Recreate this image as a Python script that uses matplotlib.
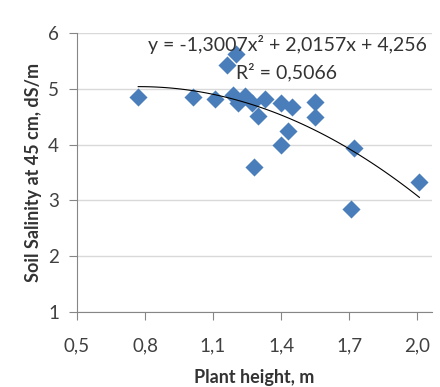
import numpy as np
import matplotlib
matplotlib.use('Agg')
import matplotlib.pyplot as plt

plt.rcParams['font.family'] = ['Lato', 'DejaVu Sans']

# plant height (m) vs soil salinity at 45 cm (dS/m)
height = [0.77, 1.01, 1.11, 1.16, 1.20, 1.19, 1.21, 1.24, 1.27, 1.30,
          1.28, 1.33, 1.40, 1.45, 1.43, 1.40, 1.55, 1.55, 1.72, 1.71, 2.01]
salinity = [4.85, 4.85, 4.81, 5.43, 5.62, 4.89, 4.74, 4.87, 4.75, 4.51,
            3.60, 4.81, 4.75, 4.67, 4.24, 3.99, 4.77, 4.49, 3.94, 2.84, 3.32]

# polynomial trendline coefficients shown on the chart
coef = [-1.3007, 2.0157, 4.256]
r2 = 0.5066

xticks = [0.5, 0.8, 1.1, 1.4, 1.7, 2.0]
yticks = [1, 2, 3, 4, 5, 6]

fig = plt.figure(figsize=(4.4, 3.87), dpi=100)
ax = fig.add_axes([0.175, 0.194, 0.807, 0.721])

ax.scatter(height, salinity, marker='D', s=85, color='#4a7ebb', zorder=3, linewidths=0)

xs = np.linspace(min(height), max(height), 100)
ax.plot(xs, np.polyval(coef, xs), color='black', linewidth=0.8, zorder=4)

ax.set_xlim(0.5, 2.066)
ax.set_ylim(1, 6)
ax.set_xticks(xticks)
ax.set_yticks(yticks)
ax.set_xticklabels([('%.1f' % t).replace('.', ',') for t in xticks])
ax.set_yticklabels([str(t) for t in yticks])

ax.yaxis.grid(True, color='#d9d9d9', linewidth=1)
ax.set_axisbelow(True)
for s in ['top', 'right']:
    ax.spines[s].set_visible(False)
for s in ['left', 'bottom']:
    ax.spines[s].set_color('#868686')
ax.tick_params(colors='#868686', labelcolor='#404040', length=6, labelsize=13.5)
ax.tick_params(axis='x', pad=12)
ax.tick_params(axis='y', pad=7)

ax.set_xlabel('Plant height, m', fontsize=13, fontweight='bold', color='#333333', labelpad=11)
ax.set_ylabel('Soil Salinity at 45 cm, dS/m', fontsize=13, fontweight='bold', color='#333333', labelpad=4)

eq = 'y = %sx² + %sx + %s' % (str(coef[0]).replace('.', ','),
                               str(coef[1]).replace('.', ','),
                               str(coef[2]).replace('.', ','))
ax.text(0.985, 0.96, eq, transform=ax.transAxes, ha='right', va='center',
        fontsize=14, color='#333333')
ax.text(0.59, 0.86, 'R² = ' + str(r2).replace('.', ','), transform=ax.transAxes,
        ha='center', va='center', fontsize=14, color='#333333')

fig.savefig('out.png', dpi=100, facecolor='white')
